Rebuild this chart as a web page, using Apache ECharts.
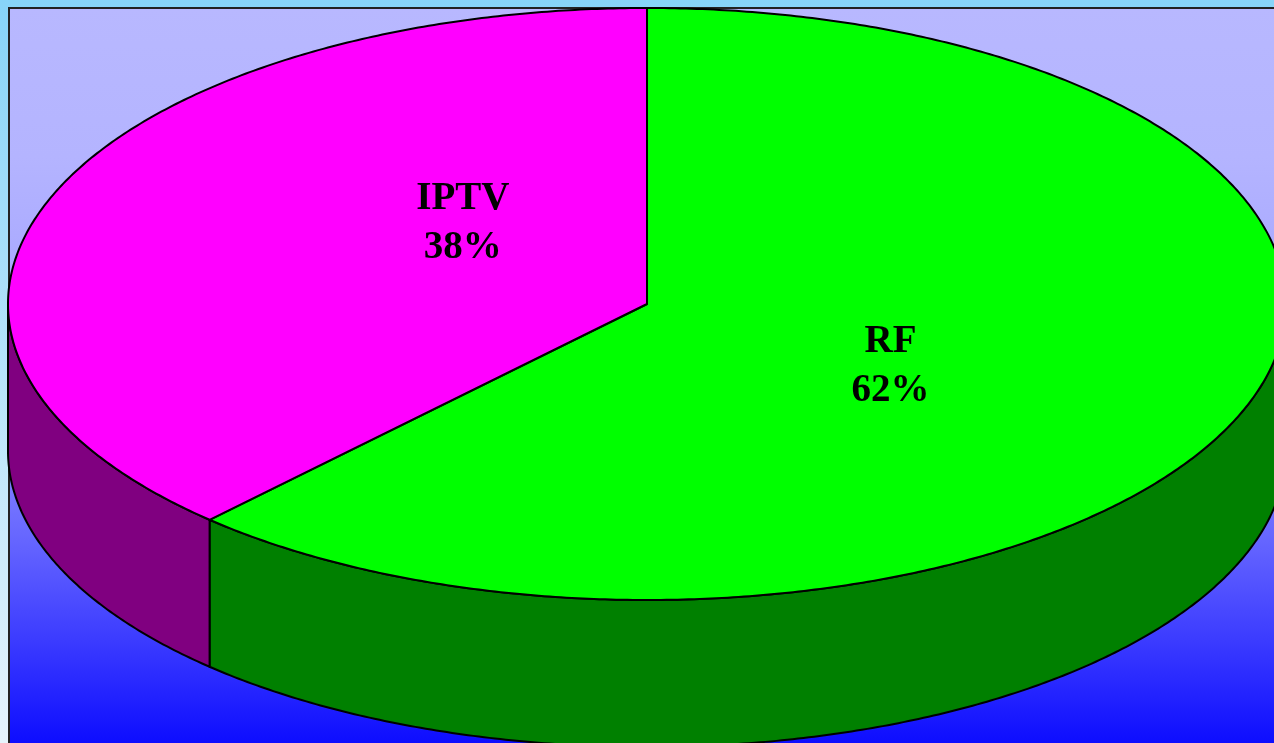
<!DOCTYPE html>
<html>
<head>
<meta charset="utf-8">
<title>RF / IPTV</title>
<script src="https://cdn.jsdelivr.net/npm/echarts@6/dist/echarts.min.js"></script>
<style>
  html, body { margin: 0; padding: 0; }
  #main { width: 1274px; height: 743px; }
</style>
</head>
<body>
<div id="main"></div>
<script>
// data
const categories = ['RF', 'IPTV']
const values = [62, 38]

// styles
const topColors = ['#00ff00', '#ff00ff']
const sideColors = ['#008000', '#800080']
// pie geometry (ellipse of the top face + thickness)
const cx = 647
const cy = 304
const rx = 639
const ry = 296
const depth = 147
// label placement as a fraction of the radii, along the slice mid-angle
const labelFrac = [[0.41, 0.57], [0.31, 0.74]]

const total = values.reduce((a, b) => a + b, 0)

function pt (deg, dy) {
  const r = deg * Math.PI / 180
  return [cx + rx * Math.sin(r), cy - ry * Math.cos(r) + (dy || 0)]
}

function arc (a0, a1, dy) {
  const pts = []
  const n = Math.max(2, Math.ceil(Math.abs(a1 - a0) / 0.5))
  for (let k = 0; k <= n; k++) {
    pts.push(pt(a0 + (a1 - a0) * k / n, dy))
  }
  return pts
}

function renderItem (params, api) {
  const i = params.dataIndex
  let before = 0
  for (let k = 0; k < i; k++) before += values[k]
  const start = before / total * 360
  const end = (before + values[i]) / total * 360
  const children = []

  // front wall, only the part facing the viewer (90..270 deg from top)
  const s0 = Math.max(start, 90)
  const s1 = Math.min(end, 270)
  if (s1 > s0) {
    const topEdge = arc(s0, s1, 0)
    const bottomEdge = arc(s1, s0, depth)
    children.push({
      type: 'polygon',
      z2: 1,
      shape: { points: topEdge.concat(bottomEdge) },
      style: { fill: sideColors[i], stroke: '#000', lineWidth: 2 }
    })
  }

  // top face
  children.push({
    type: 'polygon',
    z2: 2,
    shape: { points: [[cx, cy]].concat(arc(start, end, 0)) },
    style: { fill: topColors[i], stroke: '#000', lineWidth: 2, lineJoin: 'round' }
  })

  // label
  const mid = (start + end) / 2 * Math.PI / 180
  children.push({
    type: 'text',
    z2: 3,
    style: {
      text: categories[i] + '\n' + values[i] + '%',
      x: cx + rx * Math.sin(mid) * labelFrac[i][0],
      y: cy - ry * Math.cos(mid) * labelFrac[i][1],
      align: 'center',
      verticalAlign: 'middle',
      fontFamily: '"Liberation Serif", "DejaVu Serif", serif',
      fontWeight: 'bold',
      fontSize: 39,
      lineHeight: 49,
      fill: '#000'
    }
  })

  return { type: 'group', children: children }
}

const myChart = echarts.init(document.getElementById('main'))
myChart.setOption({
  animation: false,
  graphic: [
    {
      type: 'rect',
      z: -10,
      shape: { x: 0, y: 0, width: 1274, height: 743 },
      style: {
        fill: new echarts.graphic.LinearGradient(0, 0, 0, 1, [
          { offset: 0, color: '#87d4f8' },
          { offset: 1, color: '#e6f4fc' }
        ])
      }
    },
    {
      type: 'rect',
      z: -9,
      shape: { x: 9, y: 8, width: 1280, height: 750 },
      style: {
        fill: new echarts.graphic.LinearGradient(0, 0, 0, 1, [
          { offset: 0, color: '#b8b8ff' },
          { offset: 0.2, color: '#b4b4ff' },
          { offset: 0.4, color: '#a6a6ff' },
          { offset: 0.6, color: '#8484ff' },
          { offset: 0.72, color: '#6262ff' },
          { offset: 0.84, color: '#3c3cff' },
          { offset: 1, color: '#0606ff' }
        ]),
        stroke: '#222',
        lineWidth: 2
      }
    }
  ],
  series: [{
    type: 'custom',
    coordinateSystem: 'none',
    renderItem: renderItem,
    data: values.map((v, i) => ({ name: categories[i], value: v }))
  }]
})
</script>
</body>
</html>
